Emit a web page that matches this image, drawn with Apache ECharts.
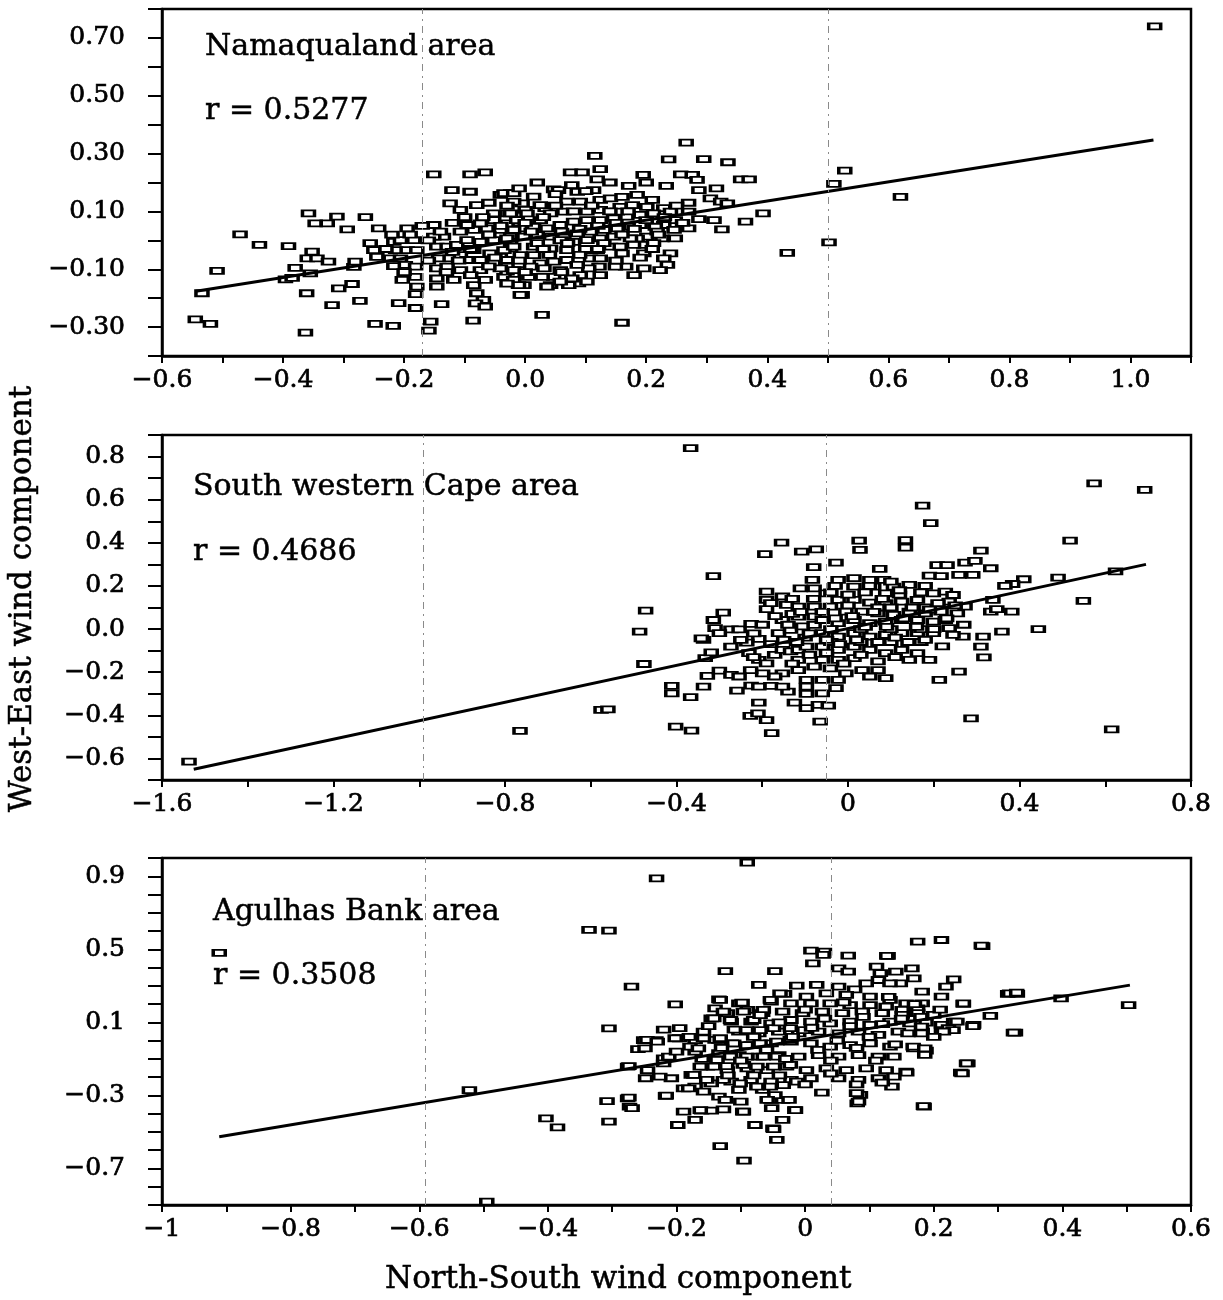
<!DOCTYPE html>
<html><head><meta charset="utf-8">
<script src="https://cdn.jsdelivr.net/npm/echarts@6/dist/echarts.min.js"></script>
<style>html,body{margin:0;padding:0;background:#fff}#c{width:1223px;height:1300px}</style>
</head><body><div id="c"></div>
<script>
// ---------- DATA ----------
const panelTitles = ['Namaqualand area', 'South western Cape area', 'Agulhas Bank area'];
const panelR = ['r = 0.5277', 'r = 0.4686', 'r = 0.3508'];
const xAxisTitle = 'North-South wind component';
const yAxisTitle = 'West-East wind component';

// [North-South component, West-East component]
const namaqualandPts = [
[1.04,0.74],[0.62,0.15],[0.528,0.241],[0.51,0.195],[0.502,-0.007],[0.433,-0.043],[0.393,0.093],[0.364,0.065],[0.356,0.211],[0.37,0.211],[0.335,0.27],[0.295,0.281],[0.266,0.338],[0.237,0.28],[0.257,0.228],[0.276,0.226],[0.284,0.209],[0.316,0.18],[0.287,0.174],[0.306,0.145],[0.323,0.134],[0.334,0.128],[0.27,0.13],[0.27,0.099],[0.287,0.073],[0.312,0.07],[0.325,0.038],[0.27,0.041],[0.233,0.188],[0.195,0.226],[0.171,0.188],[0.185,0.157],[0.115,0.292],[0.124,0.246],[0.119,0.211],[0.075,0.235],[0.094,0.235],[0.16,-0.285],[0.028,-0.258],
[0.047,0.176],[0.055,0.174],[0.077,0.191],[0.086,0.168],[0.113,0.174],[-0.024,0.163],[-0.041,0.157],[-0.005,0.128],[0.0,0.105],[0.033,0.111],[0.069,0.134],[0.091,0.134],[0.124,0.14],[0.141,0.145],[0.157,0.116],[0.177,0.122],[0.201,0.116],[0.229,0.111],[0.24,0.099],[0.248,0.07],[0.229,0.053],[0.215,0.047],[0.246,0.036],[0.226,0.007],[0.248,0.007],[0.201,0.013],[0.185,0.007],[0.196,-0.016],[0.179,-0.016],[0.212,-0.01],[0.24,-0.045],[0.229,-0.062],[0.235,-0.085],[0.223,-0.103],[0.196,-0.045],[0.196,-0.097],[0.16,-0.045],[0.166,-0.091],[0.149,-0.091],[0.124,-0.12],[0.122,-0.091],[0.105,-0.097],[0.091,-0.12],[0.088,-0.149],[0.072,-0.155],[0.077,-0.132],[0.047,-0.126],[0.042,-0.155],[0.028,-0.126],[0.006,-0.126],[-0.002,-0.155],[-0.005,-0.189],[-0.035,-0.126],[-0.03,-0.091],[-0.041,-0.057],[-0.024,-0.028],[-0.008,-0.051],[0.014,-0.051],[0.025,-0.08],[0.047,-0.074],[0.069,-0.068],[0.086,-0.085],[0.108,-0.062],[0.124,-0.062],[0.141,-0.022],[0.157,-0.022],[0.174,0.007],[0.102,-0.034],[0.119,-0.034],[0.069,-0.034],[0.042,-0.028],[0.014,-0.022],[-0.03,0.093],[-0.013,0.07],[0.003,0.093],[0.025,0.07],[-0.03,0.041],[-0.008,0.041],[0.014,0.047],[0.036,0.041],[0.058,0.053],[0.08,0.065],[0.102,0.07],[0.124,0.07],[0.146,0.076],[0.168,0.082],[0.19,0.088],[0.212,0.093],[-0.024,0.013],[-0.002,0.013],[0.02,0.018],[0.042,0.013],[0.064,0.018],[0.086,0.024],[0.108,0.03],[0.13,0.036],[0.152,0.041],[0.174,0.047],[0.19,0.053],[0.218,0.03],[-0.024,-0.005],[0.058,0.001],[0.08,-0.005],[0.102,0.001],[0.124,0.007],[0.146,0.013],[-0.019,0.134],[0.014,0.151],[0.025,0.122],[0.042,0.093],[0.064,0.099],[0.102,0.099],[0.124,0.105],[0.152,0.099],[-0.03,-0.108],[-0.008,-0.103],[0.009,-0.091],[0.031,-0.097],[0.058,-0.103],[-0.019,-0.137],[0.036,-0.16],[0.058,-0.143],[0.102,-0.143],
[-0.151,0.228],[-0.091,0.228],[-0.066,0.235],[-0.121,0.174],[-0.091,0.168],[-0.124,0.128],[-0.107,0.105],[-0.08,0.122],[-0.035,0.163],[-0.019,0.163],[-0.052,0.093],[-0.024,0.093],[-0.358,0.093],[-0.347,0.059],[-0.327,0.059],[-0.311,0.082],[-0.294,0.038],[-0.264,0.08],[-0.242,0.041],[-0.471,0.021],[-0.439,-0.016],[-0.391,-0.02],[-0.509,-0.106],[-0.534,-0.183],[-0.545,-0.273],[-0.52,-0.289],[-0.363,-0.319],[-0.352,-0.039],[-0.36,-0.062],[-0.344,-0.062],[-0.325,-0.074],[-0.38,-0.095],[-0.396,-0.135],[-0.385,-0.13],[-0.355,-0.114],[-0.283,-0.092],[-0.281,-0.074],[-0.361,-0.183],[-0.308,-0.166],[-0.286,-0.151],[-0.319,-0.224],[-0.273,-0.209],[-0.248,-0.289],[-0.218,-0.296],[-0.209,-0.217],[-0.181,-0.234],[-0.181,-0.186],[-0.156,-0.281],[-0.159,-0.312],[-0.138,-0.221],[-0.086,-0.278],[-0.08,-0.183],[-0.069,-0.206],[-0.082,-0.218],[-0.066,-0.229],[-0.085,-0.155],[-0.066,-0.137],[-0.011,-0.155],[-0.008,-0.189],[-0.256,-0.01],[-0.25,-0.034],[-0.245,-0.057],[-0.217,-0.005],[-0.206,0.001],[-0.195,0.041],[-0.184,0.001],[-0.214,-0.034],[-0.195,-0.034],[-0.179,-0.034],[-0.217,-0.089],[-0.198,-0.085],[-0.181,-0.091],[-0.203,-0.137],[-0.179,-0.16],[-0.181,-0.126],[-0.223,-0.062],[-0.206,-0.062],[-0.151,0.053],[-0.135,0.013],[-0.151,0.013],[-0.146,-0.022],[-0.129,-0.022],[-0.113,-0.016],[-0.143,-0.062],[-0.124,-0.062],[-0.107,-0.051],[-0.146,-0.097],[-0.129,-0.091],[-0.107,-0.103],[-0.146,-0.132],[-0.118,-0.137],[-0.146,-0.16],[-0.107,0.03],[-0.085,0.036],[-0.063,0.041],[-0.096,0.001],[-0.074,-0.005],[-0.052,0.001],[-0.03,0.007],[-0.085,-0.034],[-0.058,-0.045],[-0.035,-0.034],[-0.019,-0.022],[-0.096,-0.068],[-0.074,-0.068],[-0.052,-0.08],[-0.03,-0.068],[-0.074,-0.103],[-0.041,-0.097],[-0.019,-0.103],[-0.052,0.07],[-0.03,0.059],[-0.014,0.07],[-0.041,0.036],[-0.019,0.036],[-0.096,0.053],[-0.074,0.059],
[-0.19,0.02],[-0.17,0.05],[-0.16,0.0],[-0.14,0.03],[-0.12,0.06],[-0.12,-0.04],[-0.10,0.08],[-0.09,-0.03],[-0.07,0.08],[-0.06,0.02],[-0.05,-0.06],[-0.04,0.05],[-0.03,0.12],[-0.01,-0.07],[0.0,0.06],[0.01,0.03],[0.02,-0.01],[0.03,0.08],[0.04,-0.05],[0.05,0.12],[0.06,0.03],[0.07,-0.01],[0.08,0.10],[0.09,0.04],[0.10,-0.03],[0.11,0.12],[0.12,0.05],[0.13,-0.01],[0.14,0.10],[0.15,0.06],[0.16,0.02],[0.17,0.10],[0.18,0.04],[0.19,-0.06],[0.20,0.07],[0.21,0.14],[0.22,0.02],[0.23,0.08],[0.25,0.12],[0.26,0.06],[-0.22,0.02],[-0.23,-0.03],[-0.20,-0.11],[-0.16,-0.07],[-0.13,-0.11],[-0.11,-0.07],[-0.09,-0.12],[-0.06,-0.09],[-0.03,-0.15],[0.0,-0.11],[0.03,-0.03],[0.06,-0.11],[0.09,-0.05],[0.12,-0.03],[0.15,-0.07],[0.18,-0.12],[0.21,-0.03],[0.05,0.16],[0.10,0.17],[0.16,0.15],[-0.06,0.13],[-0.01,0.18],[0.02,0.20],[0.14,0.20],[0.20,0.20]
];
const swCapePts = [
[-1.537,-0.615],[-0.765,-0.472],[-0.576,-0.375],[-0.56,-0.372],[-0.367,0.839],[0.574,0.676],[0.692,0.645],[0.174,0.573],[0.193,0.491],[0.518,0.41],[0.026,0.41],[0.028,0.367],[0.134,0.413],[0.134,0.378],[-0.155,0.401],[-0.194,0.347],[-0.108,0.359],[-0.074,0.37],[-0.314,0.246],[-0.028,0.308],[-0.08,0.287],[0.074,0.279],[0.31,0.364],[0.273,0.308],[0.296,0.316],[0.333,0.282],[0.208,0.297],[0.231,0.297],[0.19,0.248],[0.217,0.246],[0.259,0.251],[0.291,0.251],[0.41,0.231],[0.384,0.209],[0.366,0.2],[0.49,0.239],[0.624,0.267],[0.549,0.131],[0.444,0.0],[0.359,-0.012],[0.338,0.135],[0.333,0.081],[0.382,0.081],[0.347,0.092],[0.615,-0.465],[0.287,-0.414],[0.315,-0.035],[0.31,-0.081],[0.317,-0.131],[0.259,-0.197],[0.213,-0.236],[0.268,-0.035],[0.245,-0.027],[-0.472,0.086],[-0.486,-0.012],[-0.476,-0.162],[-0.411,-0.264],[-0.411,-0.298],[-0.367,-0.316],[-0.337,-0.267],[-0.402,-0.452],[-0.365,-0.471],[-0.228,-0.403],[-0.21,-0.391],[-0.19,-0.422],[-0.178,-0.483],[-0.208,-0.341],[-0.065,-0.429],[-0.125,-0.341],[-0.097,-0.301],[-0.069,-0.352],[-0.046,-0.355],[-0.097,-0.367],[-0.028,-0.274],[-0.14,-0.29],[-0.18,-0.264],[-0.226,-0.262],[-0.259,-0.285],[-0.328,-0.217],[-0.3,-0.193],[-0.273,-0.213],[-0.333,-0.135],[-0.319,-0.108],[-0.337,-0.05],[-0.314,0.042],[-0.291,0.076],[-0.31,0.004],[-0.273,-0.001],[-0.254,-0.001],[-0.226,0.024],[-0.208,-0.046],[-0.236,-0.063],[-0.273,-0.081],[-0.231,-0.112],[-0.208,-0.143],[-0.19,-0.159],[-0.171,-0.12],[-0.153,-0.097],[-0.134,-0.104],[-0.116,-0.097],[-0.097,-0.081],[-0.162,-0.019],[-0.134,-0.004],[-0.106,0.012],[-0.079,0.019],[-0.153,0.042],[-0.116,0.058],[-0.079,0.058],
[-0.19,0.174],[-0.19,0.135],[-0.19,0.092],[-0.153,0.151],[-0.143,0.112],[-0.111,0.189],[-0.083,0.228],[-0.079,0.189],[-0.051,0.166],[-0.023,0.228],[0.014,0.236],[0.051,0.228],[0.083,0.228],[0.106,0.197],[0.143,0.205],[0.014,0.197],[0.06,0.197],[0.088,0.166],[-0.023,0.135],[0.014,0.135],[0.051,0.123],[0.088,0.12],[0.125,0.127],[0.162,0.135],[0.199,0.166],[0.227,0.174],[0.236,0.127],[-0.116,0.104],[-0.079,0.104],[-0.041,0.104],[-0.005,0.081],[0.033,0.081],[0.07,0.073],[0.106,0.066],[0.143,0.081],[0.18,0.073],[0.217,0.081],[0.255,0.073],[0.273,0.104],[0.245,0.158],
[-0.06,0.042],[-0.023,0.027],[0.014,0.042],[0.051,0.027],[0.088,0.035],[0.125,0.042],[0.162,0.042],[0.199,0.035],[0.227,0.042],[0.236,0.004],[-0.06,-0.019],[-0.023,-0.035],[0.014,-0.019],[0.051,-0.035],[0.088,-0.027],[0.125,-0.019],[0.162,-0.019],[0.199,-0.019],[-0.06,-0.081],[-0.023,-0.097],[0.014,-0.081],[0.051,-0.097],[0.088,-0.112],[0.125,-0.097],[0.162,-0.112],[0.19,-0.143],[0.143,-0.143],[-0.023,-0.143],[0.014,-0.135],[-0.06,-0.143],[-0.116,-0.143],[-0.079,-0.174],[-0.041,-0.182],[-0.005,-0.205],[0.033,-0.19],[0.07,-0.19],[0.088,-0.228],[-0.116,-0.19],[-0.153,-0.205],[-0.097,-0.236],[-0.06,-0.236],[-0.023,-0.236],[0.051,-0.22],[-0.171,-0.22],[-0.199,-0.205],[-0.227,-0.19],[-0.254,-0.22],[-0.208,-0.267],[-0.06,-0.298],[-0.097,-0.267],[-0.153,-0.267],[-0.342,-0.043],[-0.3,-0.019],
[-0.04,0.0],[0.03,0.0],[0.1,0.0],[0.17,0.0],[-0.1,-0.04],[-0.04,-0.06],[0.03,-0.06],[0.1,-0.06],[0.17,-0.06],[0.07,0.1],[0.0,0.16],[0.12,0.16],[0.18,0.1],[-0.13,0.07],
[-0.25,-0.05],[-0.22,-0.02],[-0.2,0.02],[-0.18,-0.07],[-0.17,0.06],[-0.14,0.02],[-0.12,-0.06],[-0.11,0.08],[-0.09,-0.02],[-0.08,0.14],[-0.06,0.08],[-0.05,-0.05],[-0.04,0.17],[-0.03,0.05],[-0.02,-0.07],[0.0,0.11],[0.01,0.06],[0.02,-0.05],[0.04,0.17],[0.04,0.01],[0.06,0.08],[0.07,-0.06],[0.08,0.14],[0.09,0.01],[0.1,0.1],[0.11,-0.04],[0.12,0.18],[0.13,0.05],[0.14,-0.06],[0.15,0.1],[0.16,0.01],[0.17,0.17],[0.18,-0.05],[0.19,0.09],[0.2,0.0],[0.21,0.12],[0.22,-0.08],[0.23,0.05],[0.25,0.11],[0.27,0.02],[-0.13,-0.16],[-0.09,-0.12],[-0.05,-0.11],[-0.01,-0.16],[0.03,-0.12],[0.07,-0.15],[0.11,-0.13],[-0.15,-0.05],[-0.22,-0.13],[-0.18,0.12],[-0.13,0.14],[-0.03,0.2],[0.05,0.2],[0.1,0.22],[0.18,0.2]
];
const agulhasPts = [
[-0.911,0.481],[-0.522,-0.271],[-0.495,-0.882],[-0.403,-0.426],[-0.385,-0.475],[-0.336,0.606],[-0.305,0.602],[-0.305,0.067],[-0.308,-0.331],[-0.305,-0.444],[-0.09,0.975],[-0.231,0.889],[-0.27,0.296],[-0.202,0.199],[-0.195,0.068],[-0.276,-0.316],[-0.273,-0.361],[-0.217,-0.303],[-0.198,-0.462],[-0.171,-0.434],[-0.189,-0.389],[-0.161,-0.383],[-0.146,-0.383],[-0.127,-0.376],[-0.132,-0.577],[-0.095,-0.657],[-0.078,-0.462],[-0.05,-0.48],[-0.044,-0.544],[-0.035,-0.434],[-0.016,-0.38],[-0.053,-0.325],[-0.035,-0.325],[-0.1,-0.334],[-0.097,-0.389],[0.026,-0.285],[0.081,-0.343],[0.086,-0.297],[0.185,-0.361],[0.242,-0.175],[0.253,-0.124],[0.327,0.044],[0.503,0.195],[0.398,0.232],[0.315,0.256],[0.33,0.256],[0.288,0.135],[0.262,0.086],[0.246,0.201],[0.276,0.518],[0.212,0.551],[0.175,0.542],[0.129,0.464],[0.067,0.466],[0.009,0.493],[0.03,0.487],[0.012,0.423],[-0.124,0.381],[-0.047,0.381],[-0.072,0.305],[0.052,0.396],[0.067,0.378],[0.111,0.405],[0.117,0.369],[0.114,0.332],[0.141,0.378],[0.166,0.396],[0.169,0.341],[0.148,0.314],[0.132,0.314],[0.231,0.336],[0.219,0.296],[0.212,0.241],[0.182,0.268],[0.182,0.204],
[-0.013,0.301],[0.018,0.305],[0.052,0.296],[0.077,0.281],[0.095,0.314],
[-0.032,0.256],[0.002,0.241],[0.033,0.259],[0.064,0.25],[0.101,0.241],[0.132,0.223],[0.157,0.204],
[-0.134,0.226],[-0.103,0.204],[-0.053,0.213],[-0.022,0.204],[0.009,0.204],[0.039,0.204],[0.07,0.195],[0.101,0.195],[0.126,0.186],[0.151,0.168],[0.175,0.177],
[-0.14,0.177],[-0.121,0.15],[-0.09,0.168],[-0.066,0.15],[-0.035,0.159],[-0.004,0.15],[0.027,0.159],[0.058,0.15],[0.089,0.159],[0.12,0.15],[0.151,0.141],[0.175,0.15],[0.2,0.141],
[-0.146,0.122],[-0.115,0.104],[-0.084,0.104],[-0.053,0.095],[-0.022,0.113],[0.009,0.104],[0.039,0.095],[0.07,0.104],[0.101,0.086],[0.132,0.104],[0.163,0.095],[0.188,0.099],[0.212,0.086],[0.231,0.104],
[-0.195,0.013],[-0.158,0.049],[-0.134,0.004],[-0.103,0.049],[-0.072,0.04],[-0.041,0.049],[-0.01,0.04],[0.021,0.049],[0.052,0.04],[0.083,0.049],[0.114,0.031],[0.145,0.049],[0.182,0.049],[0.212,0.058],
[-0.251,0.003],[-0.232,0.003],[-0.202,0.013],[-0.171,0.003],[-0.14,0.004],[-0.115,-0.015],[-0.084,-0.024],[-0.053,-0.015],[-0.022,-0.006],[0.009,-0.015],[0.039,-0.033],[0.07,-0.024],[0.101,-0.015],[0.132,-0.033],[0.169,-0.042],[0.188,-0.055],
[-0.26,-0.047],[-0.22,-0.097],[-0.171,-0.06],[-0.134,-0.069],[-0.103,-0.079],[-0.072,-0.088],[-0.041,-0.079],[-0.01,-0.088],[0.021,-0.079],[0.052,-0.088],[0.083,-0.079],[0.114,-0.088],[0.138,-0.088],
[-0.276,-0.142],[-0.245,-0.161],[-0.208,-0.206],[-0.177,-0.188],[-0.152,-0.142],[-0.121,-0.161],[-0.09,-0.152],[-0.059,-0.161],[-0.029,-0.142],[0.002,-0.161],[0.033,-0.152],[0.064,-0.161],[0.095,-0.152],[0.126,-0.161],[0.157,-0.17],[0.138,-0.197],
[-0.248,-0.206],[-0.226,-0.197],[-0.171,-0.252],[-0.146,-0.234],[-0.115,-0.225],[-0.084,-0.215],[-0.053,-0.225],[-0.022,-0.215],[0.009,-0.206],[0.052,-0.206],[0.083,-0.215],[0.114,-0.206],[0.135,-0.252],
[-0.189,-0.261],[-0.158,-0.279],[-0.134,-0.307],[-0.103,-0.27],[-0.066,-0.27],[-0.047,-0.298],[-0.025,-0.325],
[-0.274,-0.312],[-0.269,-0.37],[-0.216,-0.301],[-0.049,-0.484],[-0.015,-0.38],[-0.246,0.004],[-0.23,-0.005],[-0.249,-0.042],[-0.274,-0.139],[-0.212,-0.088],[-0.22,-0.124],[-0.181,-0.261],[-0.163,-0.38],[-0.124,-0.325],[-0.096,-0.389],[-0.059,-0.325],[-0.052,-0.37],[-0.132,0.223],[-0.127,0.159],[-0.142,0.122],[-0.116,0.113],[-0.098,0.208],[-0.096,0.159],[-0.054,0.223],[-0.065,0.168],[-0.08,0.113],[-0.039,0.259],[-0.132,0.013],[-0.158,0.013],[-0.179,-0.033],[-0.166,-0.042],[-0.137,-0.106],[-0.116,-0.088],[-0.091,-0.088],[-0.065,-0.088],[-0.044,-0.088],[-0.163,-0.142],[-0.142,-0.142],[-0.122,-0.139],[-0.096,-0.133],[-0.075,-0.142],[-0.049,-0.142],[-0.023,-0.133],[-0.173,-0.188],[-0.153,-0.215],[-0.127,-0.215],[-0.101,-0.234],[-0.075,-0.252],[-0.054,-0.252],[-0.034,-0.243],[-0.013,-0.224],[-0.111,-0.015],[-0.091,-0.024],[-0.07,-0.015],[-0.044,-0.005],[-0.023,0.004],[-0.091,0.058],[-0.07,0.058],[-0.049,0.068],[-0.023,0.068],[-0.002,0.058],
[0.274,0.52],[0.028,0.469],[0.127,0.464],[0.318,0.259],[0.329,0.263],[0.246,0.204],[0.261,0.08],[0.324,0.044],[0.236,0.104],[0.223,0.068],[0.23,0.058],[0.215,0.049],[0.181,0.04],[0.181,0.077],[0.251,-0.124],[0.244,-0.179],[0.184,-0.358],[0.168,-0.033],[0.186,-0.078],[0.186,-0.042],[0.158,-0.175],[0.08,-0.288],[0.083,-0.334],
[-0.2,-0.06],[-0.18,0.02],[-0.16,-0.1],[-0.15,0.08],[-0.13,-0.04],[-0.11,0.06],[-0.1,-0.11],[-0.08,0.02],[-0.07,0.14],[-0.06,-0.05],[-0.04,0.1],[-0.03,-0.1],[-0.02,0.02],[0.0,0.17],[0.01,0.07],[0.02,-0.05],[0.03,0.12],[0.04,-0.11],[0.05,0.0],[0.06,0.21],[0.07,0.08],[0.08,-0.04],[0.09,0.13],[0.1,0.02],[0.11,-0.11],[0.12,0.09],[0.13,0.24],[0.14,-0.02],[0.15,0.12],[0.16,0.04],[0.17,0.2],[0.18,0.13],[0.2,0.02],[0.21,0.17],[-0.12,-0.19],[-0.08,-0.19],[-0.04,-0.19],[0.0,-0.24],[0.04,-0.18],[0.08,-0.24],[0.12,-0.23],[-0.22,0.06]
];

// regression lines (end points)
const namaqualandFit = [[-0.544,-0.176],[1.038,0.347]];
const swCapeFit = [[-1.526,-0.65],[0.695,0.30]];
const agulhasFit = [[-0.911,-0.526],[0.505,0.304]];

// faint dash-dot scan lines visible on the page
const scanLines1 = [-0.165, 0.5];
const scanLines2 = [-0.987, -0.047];
const scanLines3 = [-0.591, 0.036];

// ---------- CHART ----------
const FONT = '"DejaVu Serif", serif';
const MINUS = '\u2212';
const chart = echarts.init(document.getElementById('c'), null, {renderer: 'canvas'});

const grids = [
  {left: 162, top: 9, width: 1029, height: 347},
  {left: 162, top: 435, width: 1029, height: 345},
  {left: 162, top: 858, width: 1029, height: 347}
].map(g => Object.assign(g, {show: true, borderColor: '#000', borderWidth: 2.5, backgroundColor: '#fff', containLabel: false, outerBoundsMode: 'none'}));

function k10(v) { return Math.round(v * 10); }
function num(s) { return s.replace('-', MINUS); }
const fmt = {
  x1: v => { const k = k10(v); return k % 2 === 0 ? num((k / 10).toFixed(1)) : ''; },
  y1: v => { const k = k10(v); return Math.abs(k % 2) === 1 ? num((k / 10).toFixed(2)) : ''; },
  x2: v => { const k = k10(v); return k % 4 === 0 ? (k === 0 ? '0' : num((k / 10).toFixed(1))) : ''; },
  y2: v => { const k = k10(v); return k % 2 === 0 ? num((k / 10).toFixed(1)) : ''; },
  x3: v => { const k = k10(v); if (k % 2 !== 0) return ''; if (k === 0) return '0'; if (k === -10) return MINUS + '1'; return num((k / 10).toFixed(1)); },
  y3: v => { const k = k10(v); return ((k + 7) % 4 === 0) ? num((k / 10).toFixed(1)) : ''; }
};

const labelStyle = {color: '#000', fontSize: 25, fontFamily: FONT, textBorderColor: '#000', textBorderWidth: 0.7, hideOverlap: false, showMinLabel: true, showMaxLabel: true};

function xAx(gi, min, max, interval, f) {
  return {
    type: 'value', gridIndex: gi, min: min, max: max, interval: interval,
    axisLine: {show: true, onZero: false, lineStyle: {color: '#000', width: 2.5}},
    axisTick: {show: true, length: 7, lineStyle: {color: '#000', width: 2}},
    axisLabel: Object.assign({show: true, formatter: f, margin: 12}, labelStyle),
    splitLine: {show: false}
  };
}
function yAx(gi, min, max, interval, f) {
  return {
    type: 'value', gridIndex: gi, min: min, max: max, interval: interval,
    axisLine: {show: true, onZero: false, lineStyle: {color: '#000', width: 2.5}},
    axisTick: {show: true, length: 14, lineStyle: {color: '#000', width: 2}},
    axisLabel: Object.assign({show: true, formatter: f, margin: 37}, labelStyle),
    splitLine: {show: false}
  };
}

function scatter(gi, pts, scan) {
  return {
    type: 'scatter', xAxisIndex: gi, yAxisIndex: gi, data: pts,
    symbol: 'rect', symbolSize: [12, 6],
    itemStyle: {color: '#fff', borderColor: '#000', borderWidth: 2.5, opacity: 1},
    silent: true, z: 3,
    markLine: {
      silent: true, symbol: 'none', label: {show: false},
      lineStyle: {color: '#8a8a8a', width: 1, type: [7, 5, 2, 5]},
      data: scan.map(v => ({xAxis: v}))
    }
  };
}
function fitLine(gi, pts) {
  return {
    type: 'line', xAxisIndex: gi, yAxisIndex: gi, data: pts,
    symbol: 'none', silent: true, z: 4,
    lineStyle: {color: '#000', width: 3}
  };
}

const titleStyle = {color: '#000', fontSize: 30, fontFamily: FONT, fontWeight: 'normal', textBorderColor: '#000', textBorderWidth: 0.5};
const titles = [
  {text: panelTitles[0], left: 205, top: 32},
  {text: panelR[0], left: 205, top: 96},
  {text: panelTitles[1], left: 193, top: 472},
  {text: panelR[1], left: 193, top: 537},
  {text: panelTitles[2], left: 213, top: 897},
  {text: panelR[2], left: 213, top: 961},
  {text: xAxisTitle, left: 385, top: 1264, textStyle: Object.assign({}, titleStyle, {fontSize: 31})}
].map(t => Object.assign({padding: 0, textStyle: titleStyle}, t));

chart.setOption({
  animation: false,
  backgroundColor: '#fff',
  title: titles,
  grid: grids,
  xAxis: [
    xAx(0, -0.6, 1.1, 0.1, fmt.x1),
    xAx(1, -1.6, 0.8, 0.2, fmt.x2),
    xAx(2, -1, 0.6, 0.1, fmt.x3)
  ],
  yAxis: [
    yAx(0, -0.4, 0.8, 0.1, fmt.y1),
    yAx(1, -0.7, 0.9, 0.1, fmt.y2),
    yAx(2, -0.9, 1.0, 0.1, fmt.y3)
  ],
  graphic: [{
    type: 'text', x: 23, y: 599, rotation: Math.PI / 2, silent: true,
    style: {text: yAxisTitle, font: '31px ' + FONT, fill: '#000', stroke: '#000', lineWidth: 0.5, textAlign: 'center', textVerticalAlign: 'middle', verticalAlign: 'middle'}
  }],
  series: [
    scatter(0, namaqualandPts, scanLines1), fitLine(0, namaqualandFit),
    scatter(1, swCapePts, scanLines2), fitLine(1, swCapeFit),
    scatter(2, agulhasPts, scanLines3), fitLine(2, agulhasFit)
  ]
});
</script></body></html>
